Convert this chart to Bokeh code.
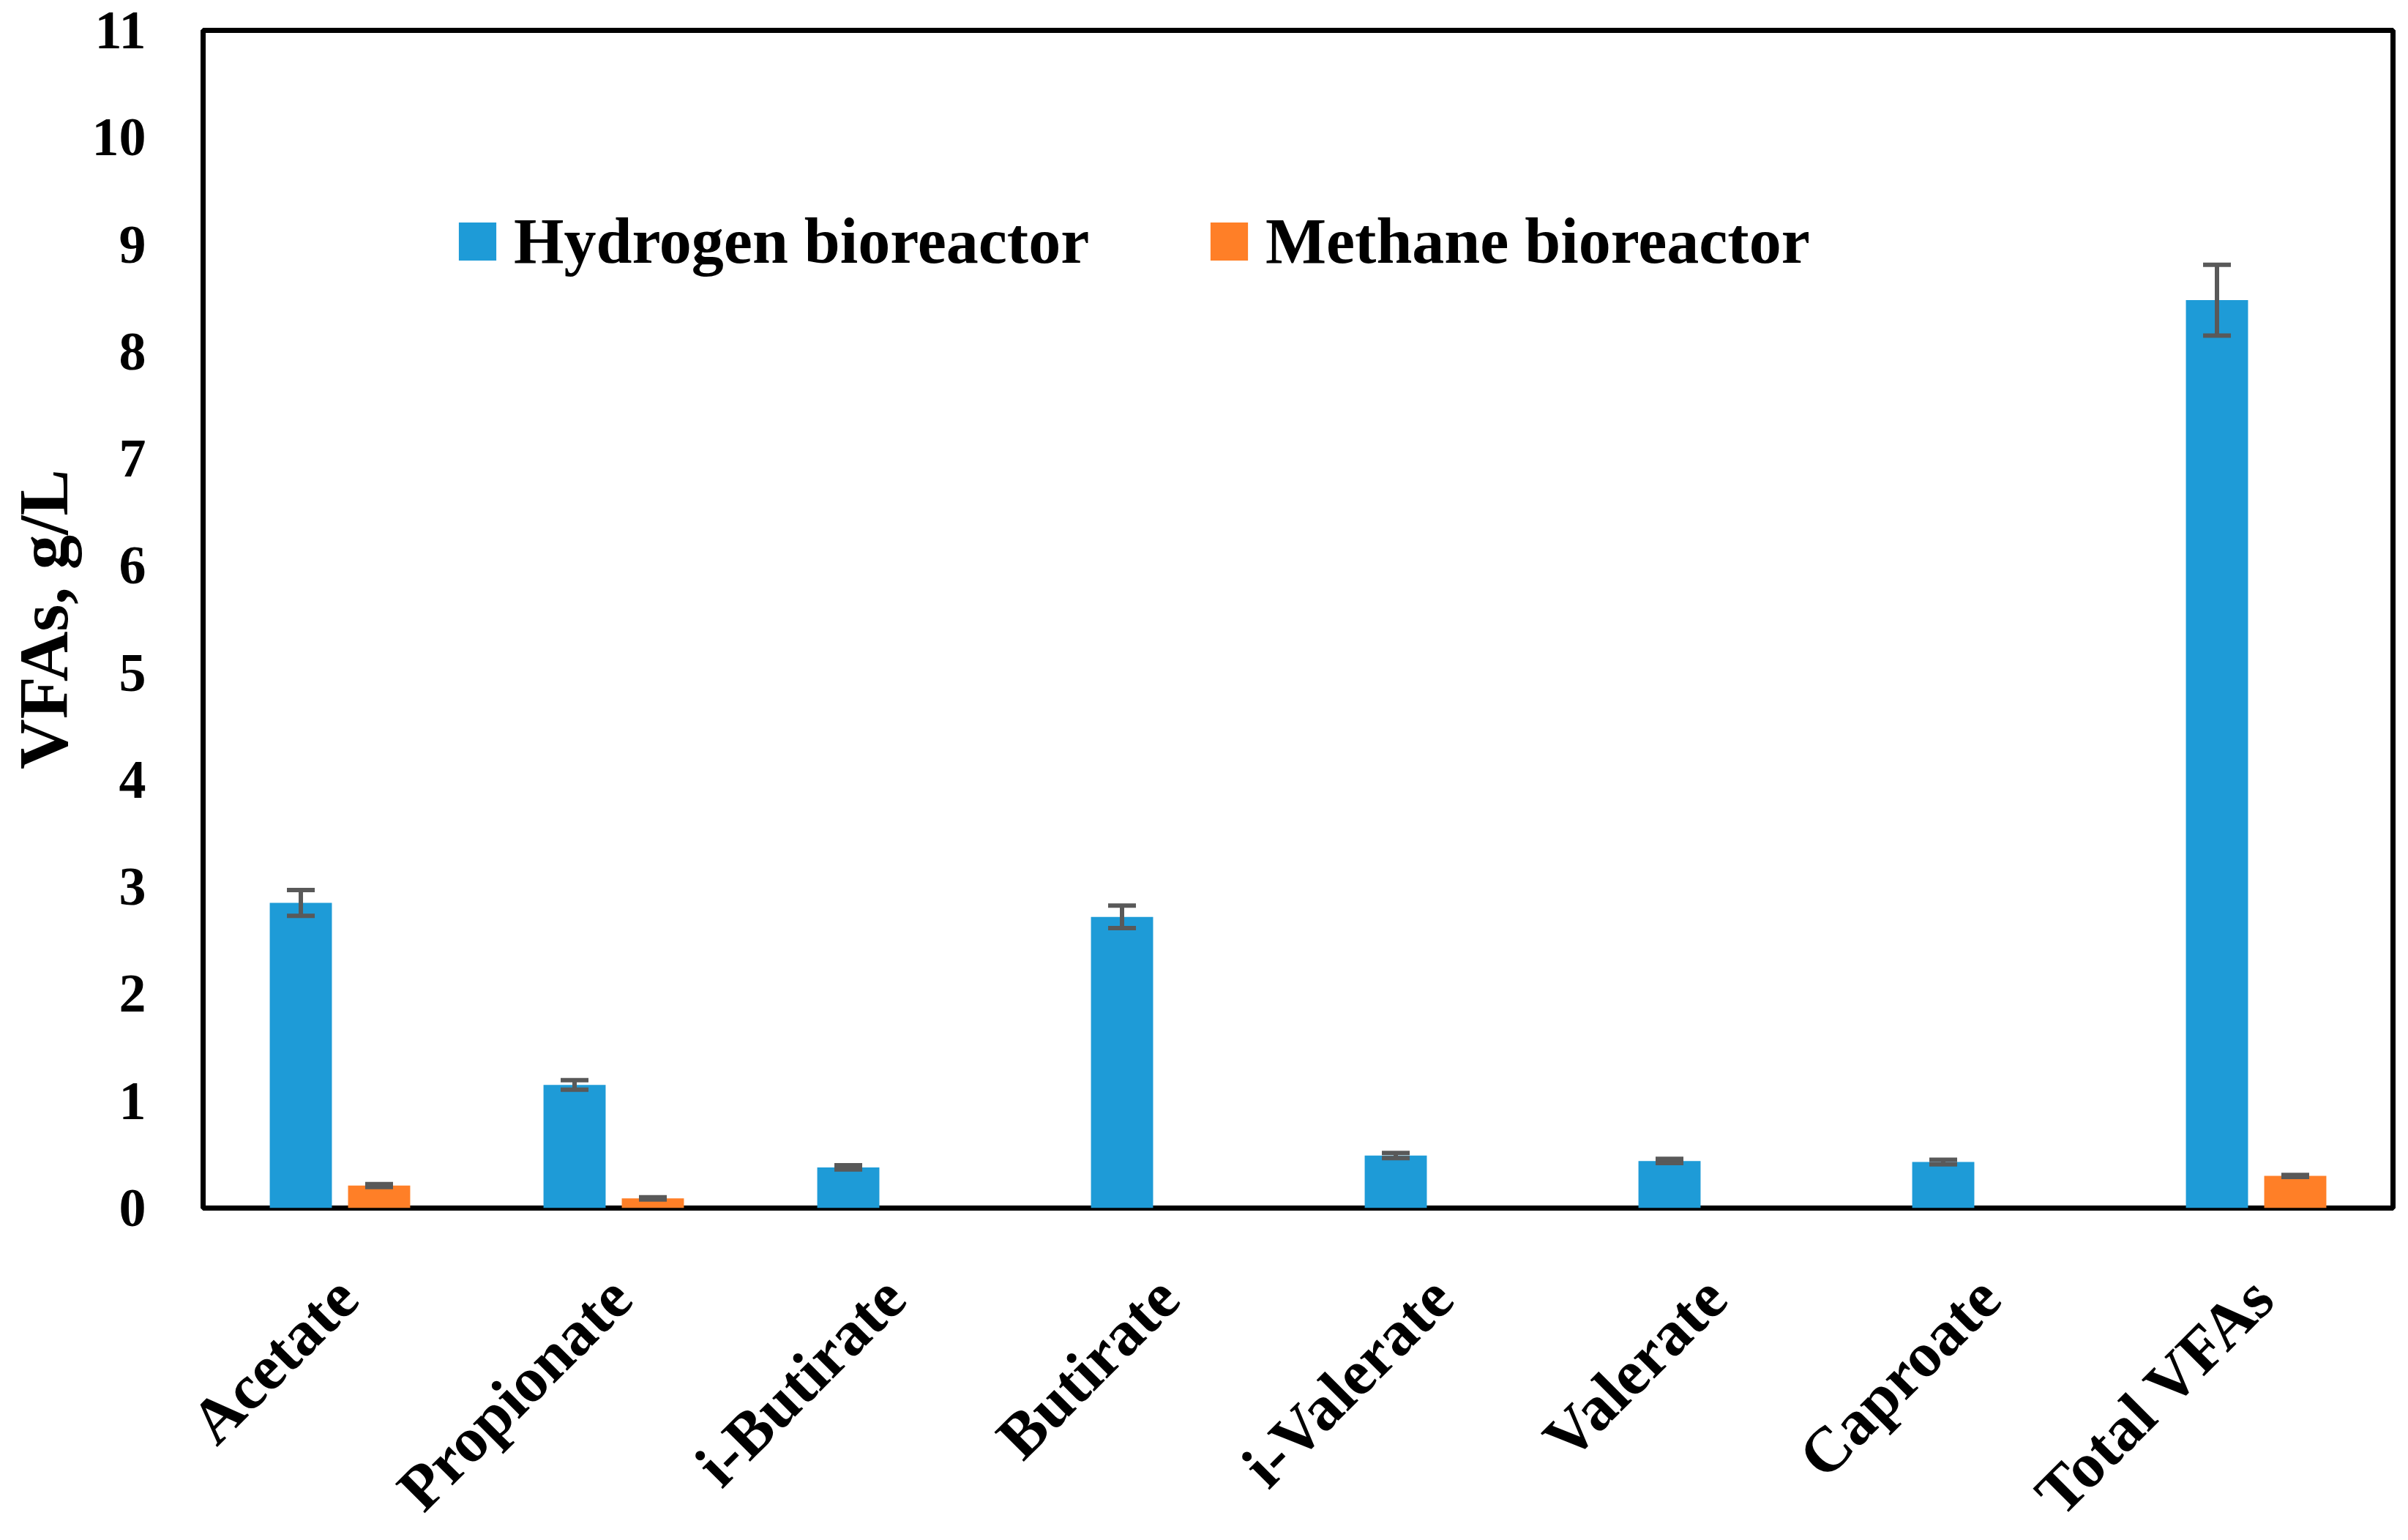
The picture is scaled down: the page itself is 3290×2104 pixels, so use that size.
import math
from bokeh.plotting import figure
from bokeh.layouts import column
from bokeh.models import (ColumnDataSource, FactorRange, Range1d, Whisker, TeeHead, Legend,
                          LegendItem, FixedTicker)
from bokeh.core.properties import value
from bokeh.transform import dodge
from bokeh.embed import file_html
from bokeh.resources import INLINE

categories = ["Acetate", "Propionate", "i-Butirate", "Butirate", "i-Valerate", "Valerate", "Caproate", "Total VFAs"]
hydrogen = [2.85, 1.15, 0.38, 2.72, 0.49, 0.44, 0.43, 8.48]
hydrogen_err = [0.12, 0.045, 0.02, 0.105, 0.024, 0.02, 0.022, 0.33]
methane = [0.21, 0.09, 0.0, 0.0, 0.0, 0.0, 0.0, 0.30]
methane_err = [0.014, 0.01, 0.0, 0.0, 0.0, 0.0, 0.0, 0.01]
y_ticks = list(range(0, 12))

BLUE = "#1E9BD7"
ORANGE = "#FF7F27"
GRAY = "#595959"
FONT = "Liberation Serif"

# layout (pixels)
W_FIG, H_TOTAL = 3288, 2102
B_LEFT, B_RIGHT, B_TOP = 277, 19, 41
FRAME_BOTTOM = 1650
P_BOTTOM_PAD = 45
P_H = FRAME_BOTTOM + P_BOTTOM_PAD
P2_H = H_TOTAL - P_H
LABEL_ANCHOR_Y = 1758  # page y of rotated label anchor

src = ColumnDataSource(dict(cat=categories, h=hydrogen, m=methane))
h_src = ColumnDataSource(dict(cat=categories,
                              up=[v + e for v, e in zip(hydrogen, hydrogen_err)],
                              lo=[v - e for v, e in zip(hydrogen, hydrogen_err)]))
m_idx = [i for i, v in enumerate(methane) if v > 0]
m_src = ColumnDataSource(dict(cat=[categories[i] for i in m_idx],
                              up=[methane[i] + methane_err[i] for i in m_idx],
                              lo=[methane[i] - methane_err[i] for i in m_idx]))

p = figure(width=W_FIG, height=P_H, x_range=FactorRange(*categories, range_padding=0),
           y_range=(0, 11), output_backend="svg", toolbar_location=None,
           min_border_left=B_LEFT, min_border_top=B_TOP,
           min_border_right=B_RIGHT, min_border_bottom=P_BOTTOM_PAD)

OFF = 0.143
W = 0.227
rh = p.vbar(x=dodge("cat", -OFF, range=p.x_range), top="h", width=W, source=src,
            fill_color=BLUE, line_color=None)
rm = p.vbar(x=dodge("cat", OFF, range=p.x_range), top="m", width=W, source=src,
            fill_color=ORANGE, line_color=None)

for s, off in ((h_src, -OFF), (m_src, OFF)):
    wk = Whisker(source=s, base=dodge("cat", off, range=p.x_range), upper="up", lower="lo",
                 line_color=GRAY, line_width=6, level="annotation",
                 upper_head=TeeHead(size=38, line_color=GRAY, line_width=6),
                 lower_head=TeeHead(size=38, line_color=GRAY, line_width=6))
    p.add_layout(wk)

p.xgrid.visible = False
p.ygrid.visible = False
p.outline_line_color = "black"
p.outline_line_width = 7
p.outline_line_alpha = 1.0
p.xaxis.visible = False

ax = p.yaxis[0]
ax.axis_line_color = "black"
ax.axis_line_width = 7
ax.major_tick_line_color = None
ax.minor_tick_line_color = None
ax.major_tick_out = 0
ax.major_tick_in = 0
ax.minor_tick_out = 0
ax.major_label_text_font = FONT
ax.major_label_text_font_style = "bold"
ax.major_label_text_color = "black"
ax.major_label_text_font_size = "74px"
ax.major_label_standoff = 78
ax.axis_label = "VFAs, g/L"
ax.axis_label_text_font = FONT
ax.axis_label_text_font_style = "bold"
ax.axis_label_text_color = "black"
ax.axis_label_text_font_size = "95px"
ax.axis_label_standoff = 10
ax.ticker = FixedTicker(ticks=y_ticks)

def mk_legend(label, r, loc):
    return Legend(items=[LegendItem(label=label, renderers=[r])], location=loc,
                  orientation="horizontal", glyph_width=64, glyph_height=65,
                  label_text_font=FONT, label_text_font_style="bold", label_text_font_size="88px",
                  label_text_color="black", label_standoff=18, padding=0, margin=0,
                  border_line_alpha=0, background_fill_alpha=0, label_height=52)

p.add_layout(mk_legend("Hydrogen bioreactor", rh, (343, 1270)))
p.add_layout(mk_legend("Methane bioreactor", rm, (1370, 1270)))

# category labels: a strip below the chart, on the same category spacing
n = len(categories)
cat_w = (W_FIG - B_LEFT - B_RIGHT) / n
pad = B_RIGHT / cat_w
cat_pos = [i + 0.5 for i in range(n)]
p2 = figure(width=W_FIG, height=P2_H,
            x_range=Range1d(-pad, n + pad), y_range=Range1d(-P2_H, 0),
            output_backend="svg", toolbar_location=None,
            min_border_left=B_LEFT - B_RIGHT, min_border_right=0, min_border_top=0,
            min_border_bottom=0)
p2.axis.visible = False
p2.grid.visible = False
p2.outline_line_color = None
lab_src = ColumnDataSource(dict(x=cat_pos, cat=categories))
p2.text(x=dodge("x", 0.024), y=-(LABEL_ANCHOR_Y - P_H), text="cat",
        source=lab_src, angle=math.pi / 4, text_align="right", text_baseline="middle",
        text_font=value(FONT), text_font_style="bold", text_font_size="87px",
        text_color="black")

for fig in (p, p2):
    if "frame_align" in fig.properties():
        fig.frame_align = False

layout = column(p, p2, spacing=0)
open("out.html", "w").write(file_html(layout, INLINE))
